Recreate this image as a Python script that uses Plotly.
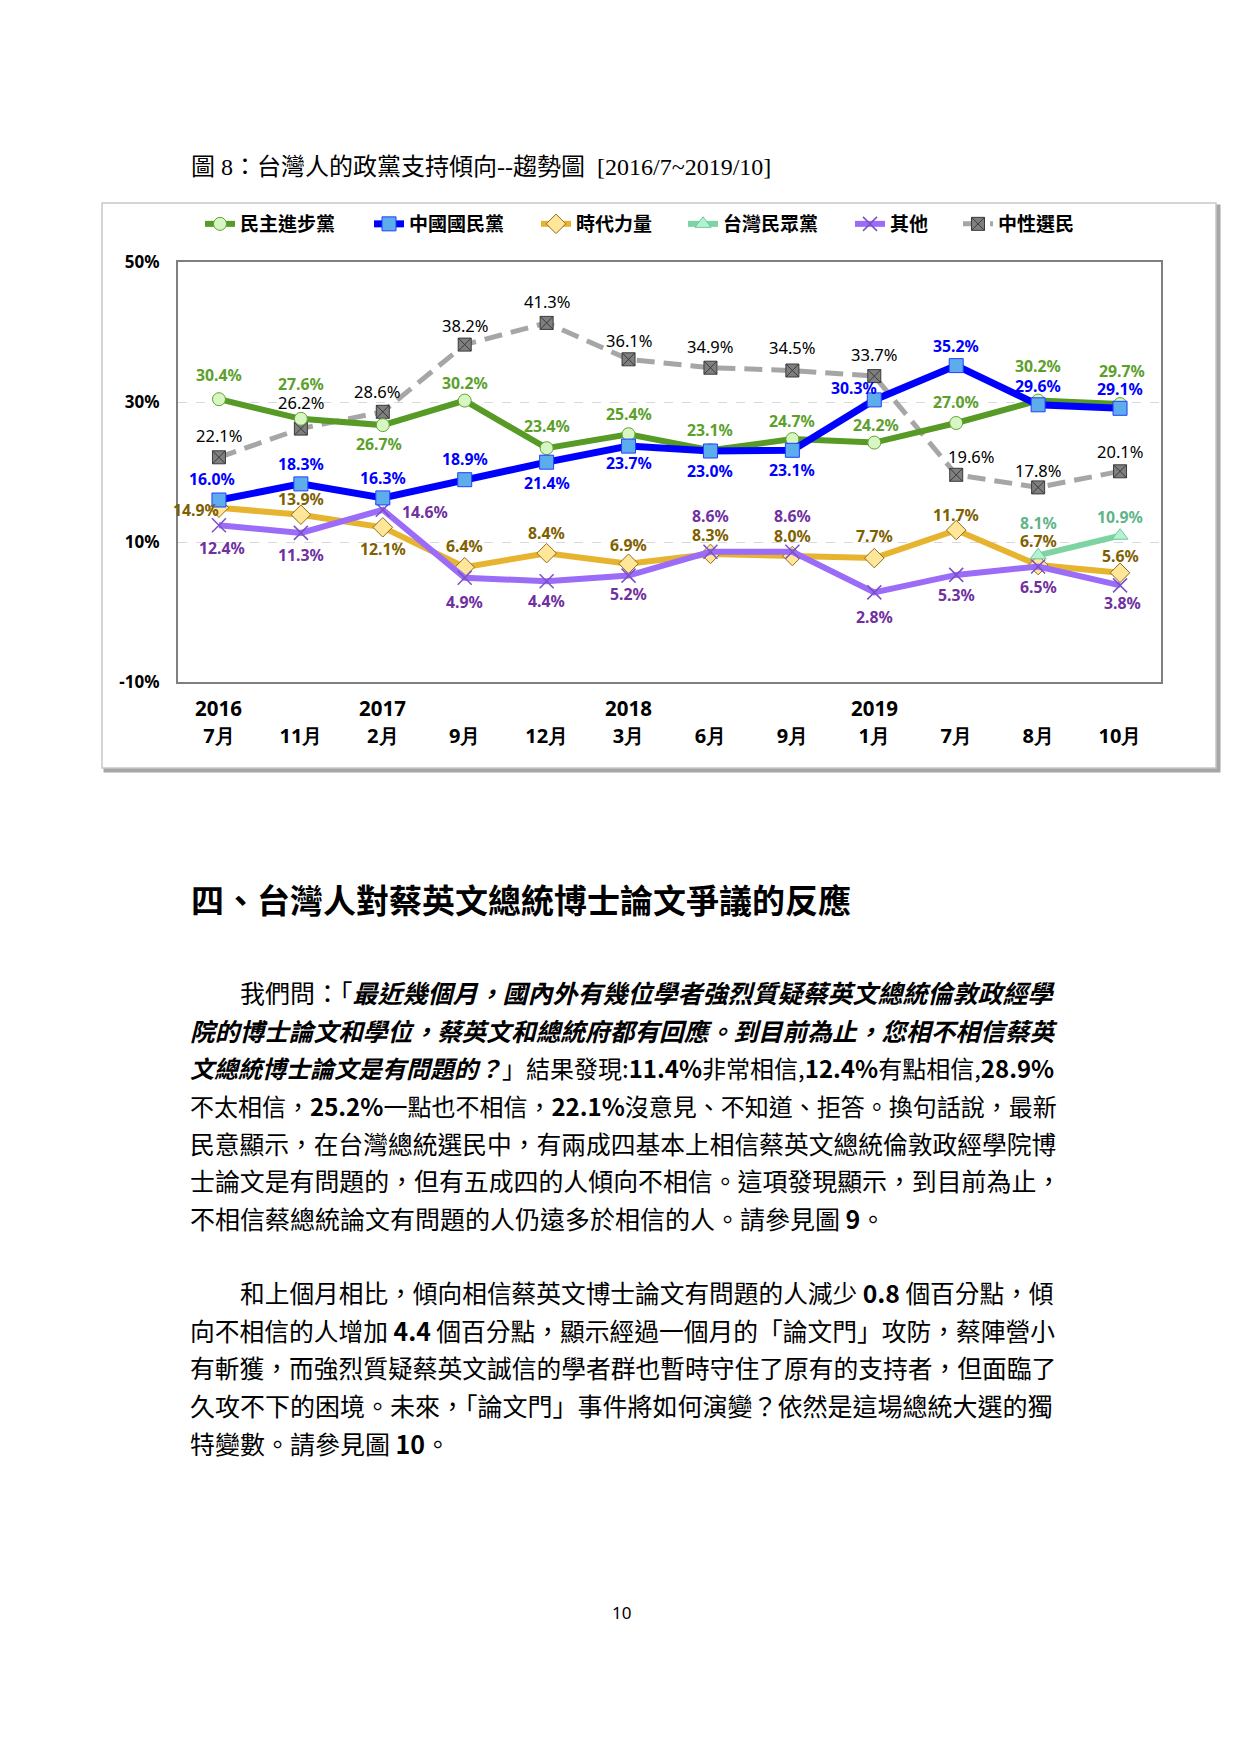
import plotly.graph_objects as go

# ---------------- data ----------------
periods = ["2016/7", "2016/11", "2017/2", "2017/9", "2017/12", "2018/3",
           "2018/6", "2018/9", "2019/1", "2019/7", "2019/8", "2019/10"]
month_labels = ["7月", "11月", "2月", "9月", "12月", "3月",
                "6月", "9月", "1月", "7月", "8月", "10月"]
year_labels = ["2016", "", "2017", "", "", "2018", "", "", "2019", "", "", ""]

dpp = [30.4, 27.6, 26.7, 30.2, 23.4, 25.4, 23.1, 24.7, 24.2, 27.0, 30.2, 29.7]
kmt = [16.0, 18.3, 16.3, 18.9, 21.4, 23.7, 23.0, 23.1, 30.3, 35.2, 29.6, 29.1]
npp = [14.9, 13.9, 12.1, 6.4, 8.4, 6.9, 8.3, 8.0, 7.7, 11.7, 6.7, 5.6]
tpp = [None, None, None, None, None, None, None, None, None, None, 8.1, 10.9]
other = [12.4, 11.3, 14.6, 4.9, 4.4, 5.2, 8.6, 8.6, 2.8, 5.3, 6.5, 3.8]
neutral = [22.1, 26.2, 28.6, 38.2, 41.3, 36.1, 34.9, 34.5, 33.7, 19.6, 17.8, 20.1]

series_names = ["民主進步黨", "中國國民黨", "時代力量", "台灣民眾黨", "其他", "中性選民"]

y_ticks = [-10, 10, 30, 50]

# ---------------- layout helpers ----------------
# page is rendered inside an 8px body margin; coordinates below are page pixels
OFF = 8
W, H = 1240 - 2 * OFF, 1753 - 2 * OFF
PL, PR, PT, PB = 178 - OFF, 1161 - OFF, 262 - OFF, 682 - OFF


def px(x):
    return (x - OFF - PL) / (PR - PL)


def py(y):
    return (PB - (y - OFF)) / (PB - PT)


CJK = "Noto Sans CJK TC"
LAT = "Noto Sans"

fig = go.Figure()

# label offsets (pixels), kept separate from the data
lbl_dpp = [(0, 24), (0, 35), (-4, -19), (0, 18), (0, 22), (0, 20), (0, 20), (0, 18), (2, 18), (0, 21), (0, 35), (2, 33)]
lbl_kmt = [(-7, 21), (0, 20), (0, 20), (0, 21), (0, -21), (0, -17), (0, -20), (0, -20), (-20, 12), (0, 20), (0, 19), (0, 19)]
lbl_npp = [("r", 2, -2), (0, 16), (0, -22), (0, 21), (0, 20), (0, 19), (0, 19), (0, 20), (0, 22), (0, 15), (0, 24), (0, 17)]
lbl_tpp = [None] * 10 + [(0, 32), (0, 19)]
lbl_oth = [(3, -23), (0, -22), ("l", 17, -2), (0, -24), (0, -20), (0, -18), (0, 36), (0, 36), (0, -25), (0, -20), (0, -20), (2, -18)]
lbl_neu = [(0, 22), (0, 26), (-6, 20), (0, 19), (0, 21), (0, 19), (0, 21), (0, 23), (0, 22), (15, 18), (0, 17), (0, 20)]

specs = [
    dict(i=5, v=neutral, lc="#A6A6A6", lw=5, dash="18px,9px", sym="square-x", ms=13, mf="#7F7F7F", ml="#3A3A3A",
         tc="#000000", tw="normal", ts=16.5, off=lbl_neu),
    dict(i=2, v=npp, lc="#E6B42E", lw=6, dash="solid", sym="diamond", ms=15, mf="#FFE699", ml="#8C6D1F",
         tc="#7F6000", tw="bold", ts=15.8, off=lbl_npp),
    dict(i=4, v=other, lc="#9B6CF7", lw=6, dash="solid", sym="x-thin-open", ms=14, mf="#7B4FC8", ml="#7B4FC8",
         tc="#7030A0", tw="bold", ts=15.8, off=lbl_oth),
    dict(i=3, v=tpp, lc="#7DD3A2", lw=6, dash="solid", sym="triangle-up", ms=14, mf="#B5F2D4", ml="#6CC996",
         tc="#5FB489", tw="bold", ts=15.8, off=lbl_tpp),
    dict(i=0, v=dpp, lc="#589A26", lw=6, dash="solid", sym="circle", ms=13, mf="#D8F5C4", ml="#5FA52E",
         tc="#5CA02C", tw="bold", ts=15.8, off=lbl_dpp),
    dict(i=1, v=kmt, lc="#0000FF", lw=7, dash="solid", sym="square", ms=14, mf="#5DADEC", ml="#1F3FFF",
         tc="#0000FF", tw="bold", ts=15.8, off=lbl_kmt),
]

# legend entry text-start positions (page pixels)
legend_text_x = [242, 411, 578, 725, 892, 1000]
legend_names = ["legend", "legend2", "legend3", "legend4", "legend5", "legend6"]

annotations = []
for s in specs:
    i = s["i"]
    mline_w = 1.5 if s["sym"] == "x-thin-open" else 1
    fig.add_trace(go.Scatter(
        x=periods, y=s["v"], name=series_names[i], mode="lines+markers",
        line=dict(color=s["lc"], width=s["lw"], dash=s["dash"]),
        marker=dict(symbol=s["sym"], size=s["ms"], color=s["mf"],
                    line=dict(color=s["ml"], width=mline_w)),
        legend=legend_names[i], connectgaps=False, hoverinfo="skip",
    ))
    for xv, yv, o in zip(periods, s["v"], s["off"]):
        if yv is None or o is None:
            continue
        xanchor = "center"
        if isinstance(o[0], str):
            xanchor = "right" if o[0] == "r" else "left"
            o = o[1:]
        annotations.append(dict(
            x=xv, y=yv, xref="x", yref="y", text=f"{yv:.1f}%", showarrow=False,
            xanchor=xanchor, yanchor="middle", xshift=o[0], yshift=o[1],
            font=dict(family=LAT, size=s["ts"], color=s["tc"], weight=s["tw"]),
        ))

# year labels under the month ticks
for xv, yl in zip(periods, year_labels):
    if yl:
        annotations.append(dict(x=xv, y=py(708), xref="x", yref="paper", text=yl, showarrow=False,
                                xanchor="center", yanchor="middle",
                                font=dict(family=LAT, size=20.5, color="#000000", weight="bold")))

# page texts
annotations.append(dict(x=px(189), y=py(167), xref="paper", yref="paper", xanchor="left", yanchor="middle",
                        showarrow=False,
                        text="圖 8：台灣人的政黨支持傾向--趨勢圖  [2016/7~2019/10]",
                        font=dict(family="Liberation Serif, " + CJK, size=24, color="#000000")))
annotations.append(dict(x=px(189), y=py(899), xref="paper", yref="paper", xanchor="left", yanchor="middle",
                        showarrow=False,
                        text="四、台灣人對蔡英文總統博士論文爭議的反應",
                        font=dict(family=CJK, size=33, color="#000000", weight="bold")))

para1 = [
    "我們問：「<b><i>最近幾個月，國內外有幾位學者強烈質疑蔡英文總統倫敦政經學</i></b>",
    "<b><i>院的博士論文和學位，蔡英文和總統府都有回應。到目前為止，您相不相信蔡英</i></b>",
    "<b><i>文總統博士論文是有問題的？</i></b>」結果發現:<b>11.4%</b>非常相信,<b>12.4%</b>有點相信,<b>28.9%</b>",
    "不太相信，<b>25.2%</b>一點也不相信，<b>22.1%</b>沒意見、不知道、拒答。換句話說，最新",
    "民意顯示，在台灣總統選民中，有兩成四基本上相信蔡英文總統倫敦政經學院博",
    "士論文是有問題的，但有五成四的人傾向不相信。這項發現顯示，到目前為止，",
    "不相信蔡總統論文有問題的人仍遠多於相信的人。請參見圖 <b>9</b>。",
]
para2 = [
    "和上個月相比，傾向相信蔡英文博士論文有問題的人減少 <b>0.8</b> 個百分點，傾",
    "向不相信的人增加 <b>4.4</b> 個百分點，顯示經過一個月的「論文門」攻防，蔡陣營小",
    "有斬獲，而強烈質疑蔡英文誠信的學者群也暫時守住了原有的支持者，但面臨了",
    "久攻不下的困境。未來，「論文門」事件將如何演變？依然是這場總統大選的獨",
    "特變數。請參見圖 <b>10</b>。",
]
p1_y = [992, 1030, 1067, 1105, 1143, 1180, 1218]
p2_y = [1292, 1330, 1367, 1405, 1443]
# per-line font sizes so the justified lines end near the right text margin
p1_fs = [25, 24.7, 24.0, 24.0, 24.75, 24.9, 25]
p2_fs = [24.7, 24.75, 24.75, 25, 25]
for k, (line, yy, fs) in enumerate(zip(para1, p1_y, p1_fs)):
    annotations.append(dict(x=px(238 if k == 0 else 188), y=py(yy), xref="paper", yref="paper",
                            xanchor="left", yanchor="middle", showarrow=False, text=line,
                            font=dict(family=CJK, size=fs, color="#000000")))
for k, (line, yy, fs) in enumerate(zip(para2, p2_y, p2_fs)):
    annotations.append(dict(x=px(238 if k == 0 else 188), y=py(yy), xref="paper", yref="paper",
                            xanchor="left", yanchor="middle", showarrow=False, text=line,
                            font=dict(family=CJK, size=fs, color="#000000")))
annotations.append(dict(x=px(621), y=py(1612), xref="paper", yref="paper", xanchor="center",
                        yanchor="middle", showarrow=False, text="10",
                        font=dict(family=LAT, size=17, color="#000000")))

# chart box (shadow + frame)
shapes = [
    dict(type="rect", xref="paper", yref="paper", layer="below",
         x0=px(105), x1=px(1219), y0=py(771), y1=py(206),
         line=dict(color="#A6A6A6", width=3), fillcolor="#A6A6A6"),
    dict(type="rect", xref="paper", yref="paper", layer="below",
         x0=px(102), x1=px(1216), y0=py(768), y1=py(203),
         line=dict(color="#C8C8C8", width=1.5), fillcolor="#FFFFFF"),
]

layout_legends = {}
for i, ln in enumerate(legend_names):
    layout_legends[ln] = dict(
        x=px(legend_text_x[i] - 42), xanchor="left", y=py(224), yanchor="middle",
        orientation="h", bgcolor="rgba(0,0,0,0)", borderwidth=0,
        font=dict(family=CJK, size=19, color="#000000", weight="bold"),
        itemclick=False, itemdoubleclick=False,
    )

fig.update_layout(
    width=W, height=H,
    margin=dict(l=PL, r=W - PR, t=PT, b=H - PB, pad=0),
    paper_bgcolor="#FFFFFF", plot_bgcolor="rgba(0,0,0,0)",
    showlegend=True,
    annotations=annotations,
    shapes=shapes,
    **layout_legends,
)
fig.update_xaxes(
    type="category", categoryorder="array", categoryarray=periods,
    range=[-0.5, len(periods) - 0.5],
    tickvals=periods, ticktext=month_labels, ticks="",
    tickfont=dict(family=LAT, size=20, color="#000000", weight="bold"),
    ticklabelstandoff=35,
    showgrid=False, showline=True, mirror=True, linecolor="#7F7F7F", linewidth=2,
    zeroline=False, fixedrange=True,
)
fig.update_yaxes(
    range=[-10, 50], tickvals=y_ticks, ticktext=[f"{t}%" for t in y_ticks], ticks="",
    tickfont=dict(family=LAT, size=17, color="#000000", weight="bold"),
    ticklabelstandoff=13,
    showgrid=True, gridcolor="#D9D9D9", griddash="dash", gridwidth=1,
    showline=True, mirror=True, linecolor="#7F7F7F", linewidth=2,
    zeroline=False, fixedrange=True,
)

fig.write_html("out.html")
